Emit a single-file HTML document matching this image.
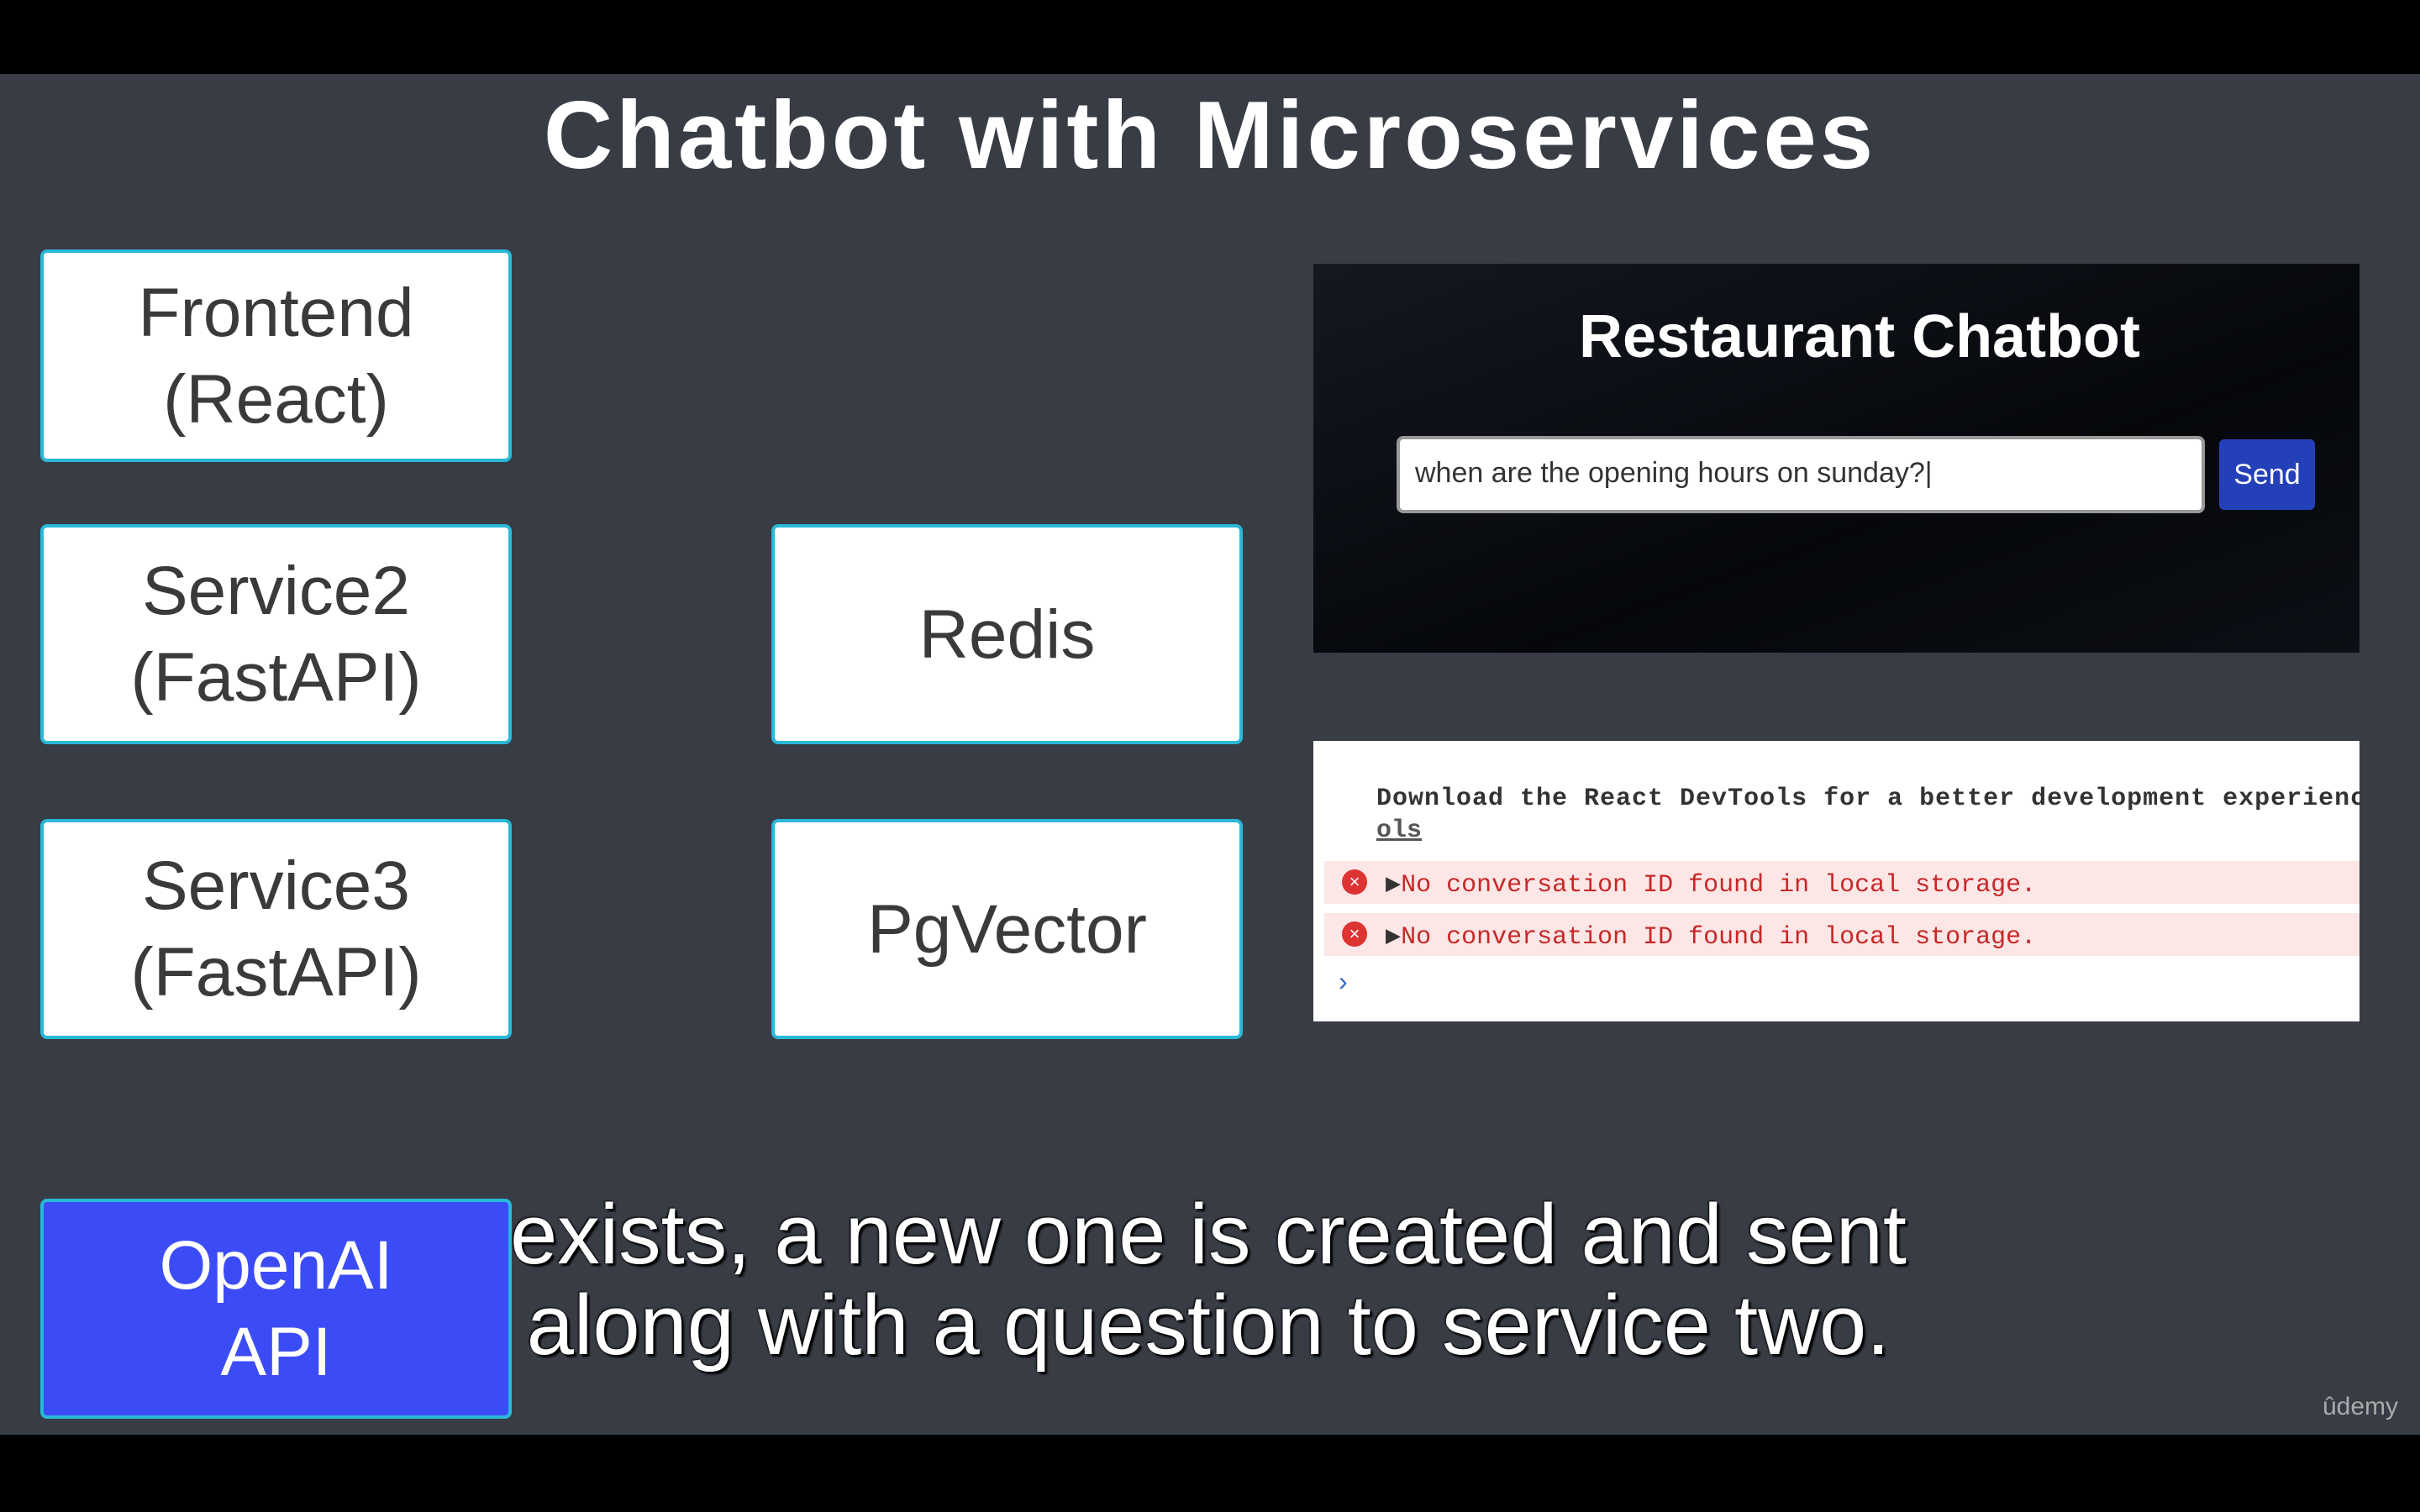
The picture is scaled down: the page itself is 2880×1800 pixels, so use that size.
<!DOCTYPE html>
<html><head><meta charset="utf-8"><style>
*{margin:0;padding:0;box-sizing:border-box}
body{width:2880px;height:1800px;background:#383c45;position:relative;overflow:hidden;font-family:"Liberation Sans",sans-serif}
.bar{position:absolute;left:0;width:2880px;background:#000}
.box{position:absolute;background:#fff;border:4px solid #2ab8d8;border-radius:8px;display:flex;align-items:center;justify-content:center;text-align:center;color:#3a3a3a;font-size:82px;line-height:103px}
.t{position:absolute;white-space:nowrap}
.mono{font-family:"Liberation Mono",monospace;font-size:30px;font-weight:bold}
</style></head><body>
<div class="bar" style="top:0;height:88px"></div>
<div class="bar" style="top:1708px;height:92px"></div>
<div class="t" style="left:0;width:2880px;text-align:center;top:96px;font-size:114px;font-weight:bold;color:#fff;letter-spacing:4px">Chatbot with Microservices</div>

<div class="box" style="left:48px;top:297px;width:561px;height:253px">Frontend<br>(React)</div>
<div class="box" style="left:48px;top:624px;width:561px;height:262px">Service2<br>(FastAPI)</div>
<div class="box" style="left:48px;top:975px;width:561px;height:262px">Service3<br>(FastAPI)</div>
<div class="box" style="left:918px;top:624px;width:561px;height:262px">Redis</div>
<div class="box" style="left:918px;top:975px;width:561px;height:262px">PgVector</div>
<div class="box" style="left:48px;top:1427px;width:561px;height:262px;background:#3b4cf7;color:#fff">OpenAI<br>API</div>

<div style="position:absolute;left:1563px;top:314px;width:1245px;height:463px;background:linear-gradient(160deg,#141820,#05070b 60%,#0c0f15)"></div>
<div class="t" style="left:1563px;width:1300px;text-align:center;top:360px;font-size:72px;font-weight:bold;color:#fff">Restaurant Chatbot</div>
<div style="position:absolute;left:1662px;top:519px;width:962px;height:92px;background:#fff;border:4px solid #999;border-radius:8px"></div>
<div class="t" style="left:1684px;top:544px;font-size:34px;color:#333">when are the opening hours on sunday?|</div>
<div style="position:absolute;left:2641px;top:523px;width:114px;height:84px;background:#2340b8;border-radius:6px;color:#fff;font-size:34px;display:flex;align-items:center;justify-content:center">Send</div>

<div style="position:absolute;left:1563px;top:882px;width:1245px;height:334px;background:#fff;overflow:hidden">
<div class="t mono" style="left:75px;top:52px;color:#333;letter-spacing:1px">Download the React DevTools for a better development experience: h</div>
<div class="t mono" style="left:75px;top:90px;color:#555;text-decoration:underline">ols</div>
<div style="position:absolute;left:13px;top:143px;width:1240px;height:51px;background:#fde6e6"></div>
<div style="position:absolute;left:13px;top:205px;width:1240px;height:51px;background:#fde6e6"></div>
<div style="position:absolute;left:34px;top:153px;width:30px;height:30px;border-radius:50%;background:#d33;color:#fff;font-size:22px;line-height:30px;text-align:center">×</div>
<div style="position:absolute;left:34px;top:215px;width:30px;height:30px;border-radius:50%;background:#d33;color:#fff;font-size:22px;line-height:30px;text-align:center">×</div>
<div class="t mono" style="left:86px;top:152px;color:#c62828;font-weight:normal"><span style="color:#333">▶</span>No conversation ID found in local storage.</div>
<div class="t mono" style="left:86px;top:214px;color:#c62828;font-weight:normal"><span style="color:#333">▶</span>No conversation ID found in local storage.</div>
<div class="t" style="left:30px;top:268px;font-size:32px;color:#3366cc">›</div>
</div>

<div class="t" style="left:0;width:2876px;text-align:center;top:1416px;font-size:101px;line-height:108px;color:#fff;text-shadow:3px 3px 2px #000,-1px -1px 2px #000">exists, a new one is created and sent<br>along with a question to service two.</div>
<div class="t" style="left:2764px;top:1658px;font-size:30px;color:#aaa">ûdemy</div>
</body></html>
